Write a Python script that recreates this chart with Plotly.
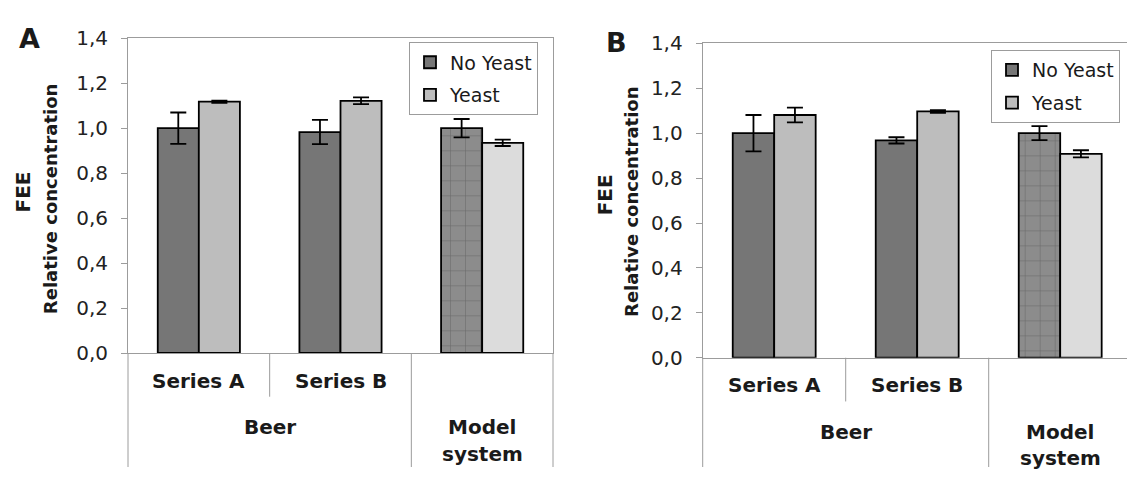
import plotly.graph_objects as go

# ---------------- data ----------------
categories = ["Series A", "Series B", "Model system"]
row1_labels = ["Series A", "Series B", ""]
group_labels = ["Beer", "Model", "system"]
y_ticks = [0.0, 0.2, 0.4, 0.6, 0.8, 1.0, 1.2, 1.4]

a_no_yeast = [1.00, 0.983, 1.00]
a_no_yeast_err = [0.070, 0.054, 0.041]
a_yeast = [1.118, 1.122, 0.935]
a_yeast_err = [0.005, 0.015, 0.014]

b_no_yeast = [1.00, 0.968, 1.00]
b_no_yeast_err = [0.081, 0.014, 0.031]
b_yeast = [1.081, 1.097, 0.908]
b_yeast_err = [0.033, 0.006, 0.016]

series_names = ["No Yeast", "Yeast"]
no_yeast_colors = ["#767676", "#767676", "#8c8c8c"]
yeast_colors = ["#bdbdbd", "#bdbdbd", "#dcdcdc"]
no_yeast_pattern = ["", "", "+"]

# ---------------- geometry helpers (layout only) ----------------
W, H = 1127, 479
FONT = "DejaVu Sans"
GRAY = "#9c9c9c"
TXT = "#1a1a1a"


def px(p):
    return p / W


def py(p):
    return 1 - p / H


# panel A plot box (pixels)
A_left, A_right, A_top, A_zero = 128, 553, 27.7, 359
# panel B plot box (pixels)
B_left, B_top, B_zero = 702.7, 33, 364
B_cat_w = 143.0
B_range_r = -0.5 + (W - B_left) / B_cat_w

fig = go.Figure()


def add_bars(xa, ya, legend, no_vals, no_err, y_vals, y_err, grp):
    fig.add_trace(go.Bar(
        x=categories, y=no_vals, name=series_names[0],
        xaxis=xa, yaxis=ya, legend=legend, legendgroup=grp + "no",
        marker=dict(color=no_yeast_colors, line=dict(color="black", width=1.8),
                    pattern=dict(shape=no_yeast_pattern, fgcolor="#a4a4a4",
                                 size=15, solidity=0.07)),
        error_y=dict(type="data", array=no_err, color="black", thickness=1.8, width=8),
    ))
    fig.add_trace(go.Bar(
        x=categories, y=y_vals, name=series_names[1],
        xaxis=xa, yaxis=ya, legend=legend, legendgroup=grp + "y",
        marker=dict(color=yeast_colors, line=dict(color="black", width=1.8)),
        error_y=dict(type="data", array=y_err, color="black", thickness=1.8, width=8),
    ))


add_bars("x", "y", "legend", a_no_yeast, a_no_yeast_err, a_yeast, a_yeast_err, "a")
add_bars("x2", "y2", "legend2", b_no_yeast, b_no_yeast_err, b_yeast, b_yeast_err, "b")

xcommon = dict(type="category", categoryorder="array", categoryarray=categories,
               showticklabels=False, ticks="", showgrid=False, zeroline=False,
               showline=True, linecolor=GRAY, linewidth=1, mirror=True, fixedrange=True)
ycommon = dict(range=[0, 1.4], tickvals=y_ticks, tickformat=".1f", ticks="outside",
               ticklen=6, tickcolor=GRAY, showgrid=False, zeroline=False,
               showline=True, linecolor=GRAY, linewidth=1,
               tickfont=dict(family=FONT, size=20, color="#222"),
               ticklabelstandoff=9, fixedrange=True)

legend_common = dict(xanchor="right", yanchor="top",
                     bgcolor="white", bordercolor=GRAY, borderwidth=1,
                     font=dict(family=FONT, size=19, color=TXT),
                     tracegroupgap=5, itemwidth=30, itemclick=False)

fig.update_layout(
    width=W, height=H, margin=dict(l=0, r=0, t=0, b=0),
    paper_bgcolor="white", plot_bgcolor="white",
    separators=", ",
    barmode="group", bargap=0.42, bargroupgap=0,
    font=dict(family=FONT, color=TXT),
    xaxis=dict(domain=[px(A_left), px(A_right)], range=[-0.5, 2.5], anchor="y", **xcommon),
    yaxis=dict(domain=[py(A_zero), py(A_top)], anchor="x", mirror=True, **ycommon),
    xaxis2=dict(domain=[px(B_left), 1.0], range=[-0.5, B_range_r], anchor="y2", **xcommon),
    yaxis2=dict(domain=[py(B_zero), py(B_top)], anchor="x2", **ycommon),
    legend=dict(x=px(538), y=py(32), **legend_common),
    legend2=dict(x=px(1120), y=py(40), **legend_common),
    showlegend=True,
)

# ---------- category table lines below the axis ----------
def vline(xref, frac, y_from, y_to):
    fig.add_shape(type="line", xref=xref, yref="paper", x0=frac, x1=frac,
                  y0=py(y_from), y1=py(y_to), line=dict(color=GRAY, width=1))


# panel A: boundaries at fractions 0, 1/3, 2/3, 1
vline("x domain", 0, A_zero, H)
vline("x domain", 1 / 3, A_zero, 405)
vline("x domain", 2 / 3, A_zero, H)
vline("x domain", 1, A_zero, H)

# panel B
span_b = B_range_r + 0.5
vline("x2 domain", 0, B_zero, H)
vline("x2 domain", 1 / span_b, B_zero, 410)
vline("x2 domain", 2 / span_b, B_zero, H)

# ---------- text ----------
def ann(text, x, y, xref="paper", size=20, bold=True, angle=0):
    fig.add_annotation(text=("<b>%s</b>" % text) if bold else text, x=x, y=y,
                       xref=xref, yref="paper", showarrow=False,
                       xanchor="center", yanchor="middle", textangle=angle,
                       font=dict(family=FONT, size=size, color=TXT))


for xa, zero in (("x", A_zero), ("x2", B_zero)):
    ann(row1_labels[0], 0, py(zero + 29), xref=xa)
    ann(row1_labels[1], 1, py(zero + 29), xref=xa)
    ann(group_labels[0], 0.5, py(zero + 78), xref=xa)
    ann(group_labels[1], 2, py(zero + 78), xref=xa)
    ann(group_labels[2], 2, py(zero + 106), xref=xa)

# axis titles
ann("FEE", px(23), py(189), size=20, angle=-90)
ann("Relative concentration", px(50), py(197), size=18, angle=-90)
ann("FEE", px(605), py(193), size=20, angle=-90)
ann("Relative concentration", px(632), py(200), size=18, angle=-90)

# panel letters
ann("A", px(29), py(28), size=27)
ann("B", px(616), py(32), size=27)

fig.write_html("out.html")
